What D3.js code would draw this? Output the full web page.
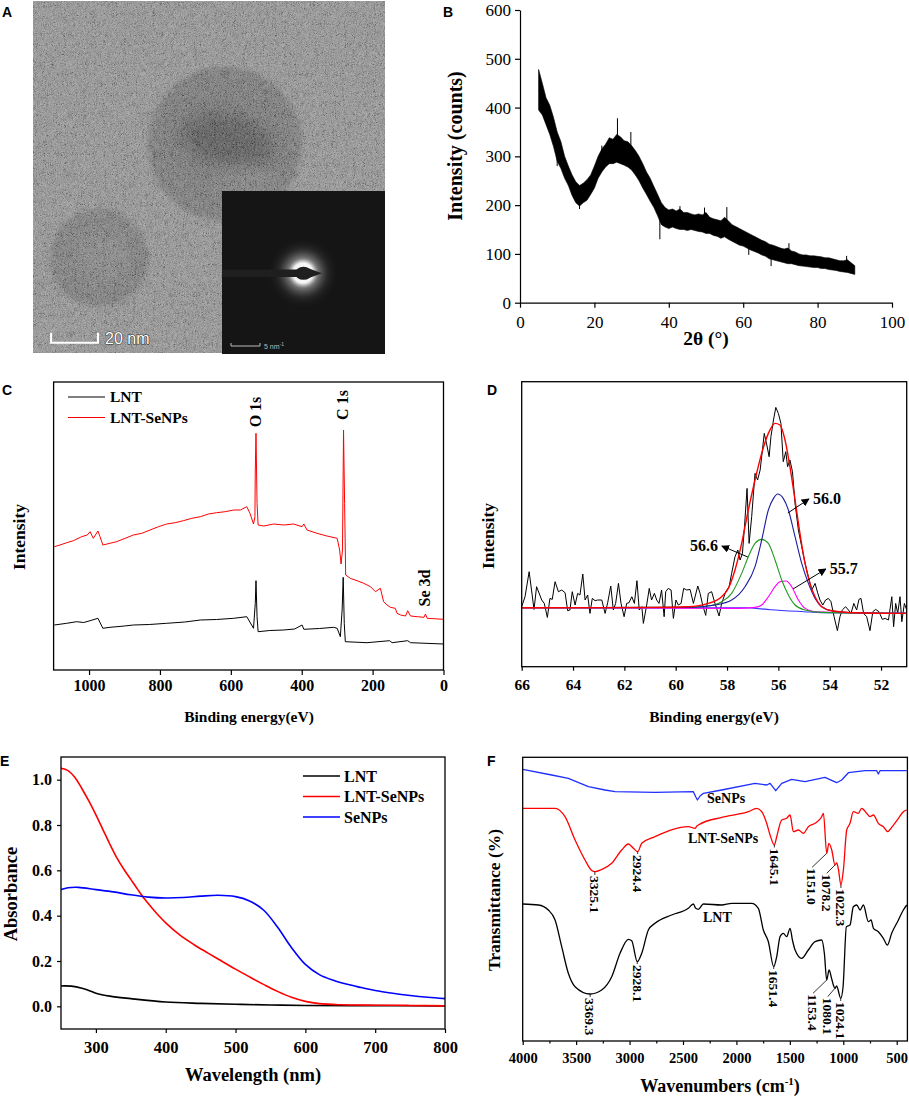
<!DOCTYPE html>
<html>
<head>
<meta charset="utf-8">
<script src="https://cdn.jsdelivr.net/npm/d3@7"></script>
<style>
  body { margin: 0; background: #fff; }
  svg text { font-family: "Liberation Serif", "Times New Roman", serif; }
</style>
</head>
<body>
<script>
// ---------- data ----------

// A: TEM micrograph, particle centres / radii in nm
const temParticles = [
  { x: 81.8, y: 60.9, r: 32.8 },
  { x: 28.1, y: 109.5, r: 20.9 }
];

// B: XRD, noisy band (low / high counts) per degree, plus single spikes
const xrdAngle = d3.range(5, 91);
const xrdLow = [395,385,365,345,320,290,275,255,240,220,205,198,205,210,222,235,255,268,278,285,285,288,285,282,278,272,262,250,235,222,208,195,178,160,155,152,155,152,150,150,148,150,148,146,145,142,142,138,136,132,135,130,126,122,118,116,112,108,105,102,98,95,90,88,86,84,82,80,80,78,76,75,74,73,72,72,70,70,68,67,66,64,63,62,60,58];
const xrdHigh = [478,450,420,405,380,350,330,300,280,262,248,240,245,252,262,280,300,315,325,338,335,345,340,332,330,322,312,300,285,268,255,238,222,205,195,190,192,188,192,185,185,182,180,182,180,185,175,172,170,168,175,168,160,156,152,148,144,140,136,132,128,125,120,118,115,112,110,112,106,104,100,98,98,96,96,95,94,92,92,90,88,86,86,88,82,76];
const xrdSpikes = [[7,405],[10,280],[16,192],[22,322],[26.2,378],[29.8,350],[37.6,130],[43,198],[49.6,195],[55.6,196],[61.5,98],[67.5,75],[72.3,122],[87.8,96]];

// C: XPS survey, [binding energy eV, intensity a.u.]
const xpsLNT = [[1098,45],[1063,46.7],[1035,48.3],[1015,47.5],[997,49.3],[975,51.7],[961,41.7],[941,42.7],[900,44],[875,45],[830,45.5],[781,46.7],[730,48],[686,50],[640,50.5],[592,51.7],[555,53.3],[536,41.7],[531,66.7],[529,89.3],[526,53.3],[523,38.3],[490,39.5],[451,40],[420,41],[399,45],[394,40.7],[350,41.5],[310,42.7],[300,41.7],[291,33.3],[286,60],[283,92.7],[280,46.7],[277,28.3],[216,27.3],[152,29.3],[145,27.3],[101,29.3],[93,27.3],[0,26]];
const xpsSeNPs = [[1098,123.3],[1082,125],[1063,127.3],[1044,129.3],[1021,133.3],[1005,135],[997,138.3],[988,131.7],[975,139],[969,133.3],[961,125],[941,126.7],[922,128.3],[898,131.7],[875,135],[851,136.7],[828,140],[804,143.3],[781,146],[757,147.3],[734,149.3],[710,151.7],[686,153.3],[663,156],[640,157.3],[616,158.3],[592,160],[573,160],[555,163.3],[546,156.7],[536,146],[532,153.3],[531,200],[529,236.7],[526,166.7],[523,145],[507,144],[479,146],[451,145],[423,146],[399,143.3],[394,146],[385,140],[357,136.7],[329,134],[300,131.7],[293,120],[289,106],[285,120],[282,240],[279,166.7],[276,95],[263,91.7],[244,89.3],[225,86.7],[206,83.3],[192,78.3],[178,81.7],[169,68.3],[159,65],[150,62.7],[136,61.7],[131,56.7],[121,55],[107,54],[101,59.3],[93,54],[74,53.3],[55,52.7],[51,56],[46,51.7],[27,51.3],[0,50.7]];
const xpsLabels = [["O 1s",531,412],["C 1s",285,405],["Se 3d",55,588]];

// D: Se 3d high resolution, [binding energy eV, intensity a.u.]
const se3dRaw = [[66.00,60],[65.87,70],[65.71,95],[65.52,57.3],[65.42,80],[65.22,66.7],[65.12,63.3],[65.00,49.3],[64.90,68.3],[64.81,67.3],[64.70,85],[64.57,75],[64.44,76.7],[64.31,74],[64.21,56],[64.12,56.7],[64.03,75],[63.92,61.7],[63.82,73.3],[63.73,71.7],[63.62,92.7],[63.53,66.7],[63.43,71.7],[63.34,53.3],[63.25,68.3],[63.14,66],[63.04,66.7],[62.88,66.7],[62.75,53.3],[62.65,64],[62.53,80.7],[62.43,56.7],[62.34,63.3],[62.23,83.3],[62.13,63.3],[62.01,50],[61.91,63.3],[61.82,64],[61.71,70],[61.61,63.3],[61.51,86],[61.42,56.7],[61.32,60],[61.26,43.3],[61.13,61.7],[61.03,78.3],[60.94,66.7],[60.83,73.3],[60.74,66.7],[60.65,63.3],[60.55,76.7],[60.45,50],[60.39,75],[60.29,78.3],[60.18,76.7],[60.09,48.3],[59.99,66.7],[59.90,61.7],[59.79,63.3],[59.69,78.3],[59.57,76.7],[59.44,77.3],[59.31,63.3],[59.14,80.7],[59.05,73.3],[58.95,61.7],[58.83,51.3],[58.73,73.3],[58.60,75],[58.47,63.3],[58.31,50.7],[58.21,63.3],[58.05,75],[57.92,80],[57.82,93.3],[57.69,110],[57.58,116.7],[57.49,106.7],[57.40,113.3],[57.32,140],[57.22,178.3],[57.14,123.3],[57.04,150],[56.91,193.3],[56.81,186.7],[56.71,196.7],[56.62,216.7],[56.55,233.3],[56.45,221.7],[56.36,210],[56.29,230],[56.19,246.7],[56.10,259.3],[56.00,253.3],[55.90,243.3],[55.81,205],[55.71,215],[55.64,200],[55.55,206.7],[55.45,195],[55.35,163.3],[55.22,136.7],[55.09,120],[54.96,103.3],[54.83,90],[54.70,76.7],[54.57,83.3],[54.47,74],[54.38,66.7],[54.27,61.7],[54.16,66.7],[54.05,68.3],[53.95,65],[53.83,50],[53.70,36],[53.60,50],[53.51,56.7],[53.38,60],[53.27,56.7],[53.17,53.3],[53.06,63.3],[52.95,56.7],[52.86,67.3],[52.78,68.3],[52.68,53.3],[52.56,50],[52.43,36],[52.32,55],[52.21,57.3],[52.08,55],[51.95,47.3],[51.84,48.3],[51.71,46.7],[51.58,70],[51.51,40],[51.43,63.3],[51.35,53.3],[51.26,70],[51.19,45],[51.09,63.3],[51.00,56.7]];
const se3dBackground = [[66,59],[57.3,59],[56.3,57],[55,55],[54.3,54],[51,53.3]];
const se3dTotal = [[66,59],[60.81,59.3],[59.51,60],[58.73,63.3],[58.21,70],[57.95,78.3],[57.69,96.7],[57.43,123.3],[57.17,156.7],[56.91,186.7],[56.65,213.3],[56.39,233.3],[56.13,243.3],[55.94,241.7],[55.74,226.7],[55.55,200],[55.35,166.7],[55.16,133.3],[54.96,103.3],[54.77,83.3],[54.57,70],[54.31,60],[53.92,56],[53.01,54],[51,53.3]];
const se3d560 = [[66,59],[59.51,59.3],[58.47,61.7],[57.82,66.7],[57.30,80],[56.91,100],[56.65,126.7],[56.39,156.7],[56.19,168.3],[56.03,172.7],[55.81,168.3],[55.61,156.7],[55.35,130],[55.09,103.3],[54.83,83.3],[54.57,68.3],[54.31,60],[53.92,56],[53.01,54],[51,53.3]];
const se3d566 = [[66,59],[59.51,59.3],[58.73,60.7],[58.21,65],[57.82,73.3],[57.43,93.3],[57.17,110],[56.91,123.3],[56.65,127.3],[56.39,123.3],[56.13,106.7],[55.87,86.7],[55.61,71.7],[55.35,61.7],[54.96,56.7],[54.31,54.3],[51,53.3]];
const se3d557 = [[66,59],[57.56,58.3],[56.91,59.3],[56.65,61.7],[56.39,70],[56.13,80],[55.94,85],[55.70,85.7],[55.48,80],[55.22,66.7],[54.96,58.3],[54.57,55],[51,53.3]];
// peak notes: label, arrow tail [eV, a.u.], arrow head [eV, a.u.]
const se3dNotes = [["56.0",[55.63,153.7],[54.81,167.7],"start"],["56.6",[57.19,109.7],[58.20,120.7],"end"],["55.7",[55.43,77.7],[54.15,97.7],"start"]];

// E: UV-vis, [wavelength nm, absorbance]
const uvLNT = [[250,0.09],[265,0.089],[280,0.08],[290,0.07],[300,0.058],[320,0.045],[350,0.034],[400,0.019],[450,0.013],[500,0.009],[550,0.006],[600,0.004],[700,0.003],[800,0.002]];
const uvLNTSeNPs = [[250,1.05],[260,1.04],[270,1.01],[280,0.96],[290,0.905],[300,0.845],[310,0.78],[320,0.715],[330,0.655],[340,0.605],[350,0.56],[360,0.515],[370,0.472],[380,0.435],[390,0.4],[400,0.368],[420,0.315],[440,0.273],[460,0.236],[480,0.2],[500,0.164],[520,0.13],[540,0.097],[560,0.066],[580,0.04],[600,0.022],[620,0.012],[650,0.007],[700,0.005],[750,0.004],[800,0.002]];
const uvSeNPs = [[250,0.515],[260,0.523],[275,0.525],[300,0.515],[325,0.505],[350,0.492],[375,0.482],[400,0.478],[425,0.48],[450,0.486],[475,0.49],[500,0.484],[520,0.465],[540,0.425],[560,0.35],[580,0.26],[600,0.185],[620,0.14],[640,0.115],[660,0.097],[680,0.083],[700,0.07],[725,0.058],[750,0.048],[775,0.04],[800,0.034]];
const uvSeries = ["LNT", "LNT-SeNPs", "SeNPs"];

// F: FT-IR, [wavenumber cm-1, transmittance a.u.]
const irSeNPs = [[4000,271.7],[3729,266],[3573,262.7],[3385,254.3],[3230,251],[3136,249.3],[2762,248.7],[2403,249.3],[2381,244.3],[2365,241],[2340,245],[2309,247.7],[2138,251],[1826,257.7],[1717,256],[1685,257.7],[1632,250.3],[1576,257.7],[1483,261.7],[1358,259.3],[1171,263.7],[1062,258.3],[1015,261],[952,268.3],[796,270.3],[687,270.3],[672,267],[656,270.3],[406,270.3]];
const irLNTSeNPs = [[4000,232.7],[3697,232.7],[3604,224.3],[3510,201],[3417,181],[3354,170.5],[3325,169.3],[3261,171.5],[3167,177.7],[3074,191],[3011,197],[2964,192.7],[2924,189.3],[2886,197.7],[2762,204.3],[2450,214.3],[2387,212.7],[2370,215],[2356,216],[2138,223.7],[1888,229.3],[1810,232.7],[1763,229.3],[1717,217.7],[1685,206],[1645,196],[1623,204.3],[1576,221],[1530,222.7],[1498,226],[1467,209.3],[1420,211],[1374,207.7],[1327,214.3],[1264,217.7],[1202,224.3],[1186,227.7],[1155,187.7],[1135,197.7],[1108,191],[1078,176],[1062,178],[1046,172],[1022,156],[999,171],[968,211],[937,217.7],[906,229.3],[859,227.7],[828,232.7],[781,227.7],[750,224.3],[718,226],[672,217.7],[625,214.3],[584,209.3],[547,213.7],[484,222.7],[438,229.3],[406,231]];
const irLNT = [[4000,137],[3853,136],[3760,131],[3697,121],[3635,94.3],[3573,67.7],[3510,54.3],[3369,47],[3261,51],[3167,64.3],[3089,87.7],[3011,101.7],[2980,100.3],[2928,79.3],[2886,87.7],[2824,111],[2762,117.7],[2606,126],[2450,132.7],[2403,137],[2381,132.7],[2356,131.7],[2309,137],[2138,136],[2044,137.7],[1857,137.7],[1795,132.7],[1748,111],[1701,99.3],[1651,74.3],[1623,84.3],[1592,104.3],[1561,107.7],[1530,104.3],[1498,112.7],[1476,101],[1451,91],[1389,82.7],[1327,91],[1264,99.3],[1202,101],[1177,87.7],[1155,61],[1133,71],[1108,62],[1093,56],[1078,52.7],[1062,55],[1024,42.7],[1002,54.3],[971,114.3],[937,116],[906,134.3],[874,136],[843,131],[812,136],[765,119.3],[740,121],[718,112.7],[672,109.3],[625,102.7],[587,96],[547,107.7],[484,121],[438,131],[406,136]];
// peak labels: text, curve point [cm-1, a.u.], label start [cm-1, a.u.]
const irPeaks = [
  ["3325.1",[3325,169.3],[3325,166]], ["2924.4",[2924,189.3],[2924,187]], ["1645.1",[1645,196],[1645,193.5]],
  ["1151.0",[1155,187.7],[1292,173.7]], ["1078.2",[1078,176],[1155,167.7]], ["1022.3",[1022,156],[1022,153]],
  ["3369.3",[3369,47],[3369,44]], ["2928.1",[2928,79.3],[2928,77]], ["1651.4",[1651,74.3],[1651,72]],
  ["1153.4",[1155,61],[1283,47.7]], ["1080.1",[1078,52.7],[1146,44.3]], ["1024.1",[1024,42.7],[1024,40]]
];
const irNames = [["SeNPs",2275,238],["LNT-SeNPs",2453,198.5],["LNT",2313,119.5]];

// ---------- drawing ----------
const serif = '"Liberation Serif", "Times New Roman", serif';
const sans = '"Liberation Sans", Arial, sans-serif';

const svg = d3.select("body").append("svg")
    .attr("width", 909)
    .attr("height", 1098);
const defs = svg.append("defs");

function styleAxis(g, size, bold) {
  g.selectAll("line, path").attr("stroke", "#000").attr("stroke-width", 1.2);
  g.selectAll("text")
      .attr("fill", "#000")
      .style("font-family", serif)
      .style("font-size", size + "px")
      .style("font-weight", bold ? "bold" : "normal");
}

function frame(x, y) {
  const [x0, x1] = x.range(), [y0, y1] = y.range();
  svg.append("rect")
      .attr("x", x0).attr("y", y1)
      .attr("width", x1 - x0).attr("height", y0 - y1)
      .attr("fill", "none").attr("stroke", "#000").attr("stroke-width", 1.3);
}

function letter(t, x, y) {
  svg.append("text").attr("x", x).attr("y", y)
      .style("font-family", sans).attr("font-weight", "bold").attr("font-size", 14)
      .text(t);
}

function title(t, x, y, size, rotate) {
  svg.append("text")
      .attr("transform", `translate(${x},${y})` + (rotate ? " rotate(-90)" : ""))
      .attr("text-anchor", "middle").attr("font-weight", "bold").attr("font-size", size)
      .text(t);
}

function plot(data, x, y, color, width, curve) {
  svg.append("path").datum(data)
      .attr("d", d3.line().x(d => x(d[0])).y(d => y(d[1])).curve(curve || d3.curveLinear))
      .attr("fill", "none").attr("stroke", color)
      .attr("stroke-width", width).attr("stroke-linejoin", "round");
}

const intFmt = d3.format("d");

// ===== A: TEM image =====
const tx = d3.scaleLinear().domain([0, 150]).range([33, 385]);
const ty = d3.scaleLinear().domain([0, 150]).range([1, 353]);
const tk = tx(1) - tx(0);

const grain = defs.append("filter").attr("id", "grain")
    .attr("filterUnits", "userSpaceOnUse").attr("x", 33).attr("y", 1).attr("width", 352).attr("height", 352);
grain.append("feTurbulence").attr("type", "fractalNoise").attr("baseFrequency", 1.9)
    .attr("numOctaves", 1).attr("seed", 11);
grain.append("feColorMatrix").attr("type", "matrix")
    .attr("values", "2.0 0 0 0 -0.5  2.0 0 0 0 -0.5  2.0 0 0 0 -0.5  0 0 0 0 1");
defs.append("filter").attr("id", "soft").append("feGaussianBlur").attr("stdDeviation", 2.5);
defs.append("filter").attr("id", "softer").attr("x", -0.5).attr("y", -0.5).attr("width", 2).attr("height", 2)
    .append("feGaussianBlur").attr("stdDeviation", 9);

svg.append("rect").attr("x", tx(0)).attr("y", ty(0))
    .attr("width", tx(150) - tx(0)).attr("height", ty(150) - ty(0)).attr("fill", "#8e8e8e");

const big = temParticles[0], small = temParticles[1];
svg.append("circle").attr("cx", tx(big.x)).attr("cy", ty(big.y)).attr("r", big.r * tk)
    .attr("fill", "#707070").attr("filter", "url(#soft)");
svg.append("ellipse").attr("cx", tx(big.x) + 2).attr("cy", ty(big.y) - 4)
    .attr("rx", big.r * tk * 0.62).attr("ry", big.r * tk * 0.34)
    .attr("transform", `rotate(14,${tx(big.x)},${ty(big.y)})`)
    .attr("fill", "#4c4c4c").attr("filter", "url(#softer)");
svg.append("ellipse").attr("cx", tx(big.x) + 22).attr("cy", ty(big.y) + 40)
    .attr("rx", 30).attr("ry", 14).attr("fill", "#7a7a7a").attr("filter", "url(#softer)");
svg.append("circle").attr("cx", tx(small.x)).attr("cy", ty(small.y)).attr("r", small.r * tk)
    .attr("fill", "#737373").attr("filter", "url(#soft)");
svg.append("circle").attr("cx", tx(small.x) + 3).attr("cy", ty(small.y) - 2).attr("r", small.r * tk * 0.55)
    .attr("fill", "#7e7e7e").attr("filter", "url(#softer)");

svg.append("rect").attr("x", tx(0)).attr("y", ty(0))
    .attr("width", tx(150) - tx(0)).attr("height", ty(150) - ty(0))
    .attr("filter", "url(#grain)").attr("opacity", 0.28);

// scale bar 20 nm
const barX0 = tx(7.7), barY = ty(145.6);
svg.append("path")
    .attr("d", `M${barX0},${barY - 10}V${barY}H${barX0 + 20 * tk}V${barY - 10}`)
    .attr("fill", "none").attr("stroke", "#fff").attr("stroke-width", 2);
svg.append("text").attr("x", barX0 + 20 * tk + 7).attr("y", barY + 1)
    .style("font-family", sans).style("font-size", "16px").style("fill", "#fff")
    .style("stroke", "#333").style("stroke-width", "1.2px").style("paint-order", "stroke")
    .text("20 nm");

// SAED inset
const ix0 = 222, iy0 = 191, iw = 163;
svg.append("rect").attr("x", ix0).attr("y", iy0).attr("width", iw).attr("height", iw).attr("fill", "#151515");
const glow = defs.append("radialGradient").attr("id", "glow");
[[0, "#ffffff", 1], [0.28, "#f4f4f4", 1], [0.42, "#9a9a9a", 0.7], [0.7, "#444", 0.35], [1, "#151515", 0]]
  .forEach(s => glow.append("stop").attr("offset", s[0]).attr("stop-color", s[1]).attr("stop-opacity", s[2]));
svg.append("circle").attr("cx", 303).attr("cy", 273).attr("r", 36).attr("fill", "url(#glow)");
svg.append("rect").attr("x", ix0).attr("y", 269.5).attr("width", 76).attr("height", 7.5).attr("fill", "#1f1f1f");
svg.append("ellipse").attr("cx", 303.5).attr("cy", 273.3).attr("rx", 8.5).attr("ry", 6.5).attr("fill", "#1f1f1f");
svg.append("path").attr("d", "M309,268.5L322,273.3L309,278Z").attr("fill", "#1f1f1f");
svg.append("path").attr("d", "M231,343V346H260V343").attr("fill", "none").attr("stroke", "#bbb").attr("stroke-width", 1);
const saedTxt = svg.append("text").attr("x", 264).attr("y", 349)
    .style("font-family", sans).style("font-size", "7px").style("fill", "#bbb").text("5 nm");
saedTxt.append("tspan").attr("dy", -3).style("font-size", "5px").text("-1");

letter("A", 2, 17);

// ===== B: XRD =====
const bx = d3.scaleLinear().domain([0, 100]).range([520, 892]);
const by = d3.scaleLinear().domain([0, 600]).range([302.7, 10]);

svg.append("path").datum(xrdAngle)
    .attr("d", d3.area().x(d => bx(d)).y0((d, i) => by(xrdLow[i])).y1((d, i) => by(xrdHigh[i])))
    .attr("fill", "#000").attr("stroke", "#000").attr("stroke-width", 0.6);
xrdSpikes.forEach(s => {
  const i = Math.round(s[0]) - 5;
  svg.append("line")
      .attr("x1", bx(s[0])).attr("x2", bx(s[0]))
      .attr("y1", by((xrdLow[i] + xrdHigh[i]) / 2)).attr("y2", by(s[1]))
      .attr("stroke", "#000").attr("stroke-width", 1);
});

svg.append("g").attr("transform", `translate(0,${by(0)})`)
    .call(d3.axisBottom(bx).tickValues([0, 20, 40, 60, 80, 100]).tickSize(5).tickPadding(8).tickSizeOuter(0))
    .call(g => styleAxis(g, 17, false));
svg.append("g").attr("transform", `translate(${bx(0)},0)`)
    .call(d3.axisLeft(by).tickValues(d3.range(0, 601, 100)).tickSize(5).tickPadding(4).tickSizeOuter(0))
    .call(g => styleAxis(g, 17, false));
title("2θ (°)", 706, 345, 19.5, false);
title("Intensity (counts)", 462, 146, 20, true);
letter("B", 443, 17);

// ===== C: XPS survey =====
const cx = d3.scaleLinear().domain([1100, 0]).range([53.6, 443.5]);
const cy = d3.scaleLinear().domain([0, 288]).range([670, 382]);

plot(xpsLNT, cx, cy, "#000", 1);
plot(xpsSeNPs, cx, cy, "#ff0000", 1);
frame(cx, cy);
svg.append("g").attr("transform", `translate(0,${cy(0)})`)
    .call(d3.axisBottom(cx).tickValues([1000, 800, 600, 400, 200, 0]).tickFormat(intFmt)
      .tickSize(5).tickPadding(5).tickSizeOuter(0))
    .call(g => styleAxis(g, 16, true))
    .call(g => g.select(".domain").remove());
xpsLabels.forEach(l => {
  svg.append("text")
      .attr("transform", `translate(${cx(l[1])},${l[2]}) rotate(-90)`)
      .attr("text-anchor", "middle").attr("dy", "0.35em")
      .attr("font-weight", "bold").attr("font-size", 16)
      .text(l[0]);
});
[["LNT", "#000"], ["LNT-SeNPs", "#ff0000"]].forEach((s, i) => {
  const yy = 397 + i * 20.5;
  svg.append("line").attr("x1", 68).attr("x2", 105).attr("y1", yy).attr("y2", yy)
      .attr("stroke", s[1]).attr("stroke-width", 1.1);
  svg.append("text").attr("x", 110).attr("y", yy).attr("dy", "0.35em")
      .attr("font-weight", "bold").attr("font-size", 15.5).text(s[0]);
});
title("Binding energy(eV)", 249, 722, 15.5, false);
title("Intensity", 25, 537, 17.5, true);
letter("C", 2, 395);

// ===== D: Se 3d =====
const dx = d3.scaleLinear().domain([66, 51]).range([521.7, 906.7]);
const dy = d3.scaleLinear().domain([0, 285]).range([666.7, 381.7]);

plot(se3dRaw, dx, dy, "#000", 1);
plot(se3dBackground, dx, dy, "#3333ff", 1.1, d3.curveMonotoneX);
plot(se3d557, dx, dy, "#ff00ff", 1.1, d3.curveMonotoneX);
plot(se3d566, dx, dy, "#1f9a1f", 1.1, d3.curveMonotoneX);
plot(se3d560, dx, dy, "#1c1ca0", 1.1, d3.curveMonotoneX);
plot(se3dTotal, dx, dy, "#ff0000", 1.4, d3.curveMonotoneX);
frame(dx, dy);

defs.append("marker").attr("id", "arrow").attr("viewBox", "0 0 10 10")
    .attr("refX", 9).attr("refY", 5).attr("markerWidth", 8).attr("markerHeight", 8)
    .attr("markerUnits", "userSpaceOnUse").attr("orient", "auto")
  .append("path").attr("d", "M0,0L10,5L0,10Z").attr("fill", "#000");
se3dNotes.forEach(n => {
  const [t, tail, head, anchor] = n;
  svg.append("line")
      .attr("x1", dx(tail[0])).attr("y1", dy(tail[1]))
      .attr("x2", dx(head[0])).attr("y2", dy(head[1]))
      .attr("stroke", "#000").attr("stroke-width", 1).attr("marker-end", "url(#arrow)");
  svg.append("text")
      .attr("x", dx(head[0]) + (anchor === "start" ? 4 : -4)).attr("y", dy(head[1]))
      .attr("dy", "0.3em").attr("text-anchor", anchor)
      .attr("font-weight", "bold").attr("font-size", 16).text(t);
});
svg.append("g").attr("transform", `translate(0,${dy(0)})`)
    .call(d3.axisBottom(dx).tickValues(d3.range(66, 51, -2)).tickSize(4).tickPadding(8).tickSizeOuter(0))
    .call(g => styleAxis(g, 15.5, true))
    .call(g => g.select(".domain").remove());
title("Binding energy(eV)", 714, 722, 15.5, false);
title("Intensity", 494, 536, 17.5, true);
letter("D", 487, 395);

// ===== E: UV-vis =====
const ex = d3.scaleLinear().domain([250, 800]).range([61, 445]);
const ey = d3.scaleLinear().domain([-0.1, 1.1]).range([1029, 757]);
const uvColor = d3.scaleOrdinal().domain(uvSeries).range(["#000000", "#ff0000", "#0000ff"]);

[uvLNT, uvLNTSeNPs, uvSeNPs].forEach((s, i) =>
  plot(s, ex, ey, uvColor(uvSeries[i]), 1.6, d3.curveCatmullRom.alpha(0.5)));
frame(ex, ey);
svg.append("g").attr("transform", `translate(0,${ey.range()[0]})`)
    .call(d3.axisBottom(ex).tickValues([300, 400, 500, 600, 700, 800]).tickSize(4).tickPadding(8).tickSizeOuter(0))
    .call(g => styleAxis(g, 16.5, true))
    .call(g => g.select(".domain").remove());
svg.append("g").attr("transform", `translate(${ex.range()[0]},0)`)
    .call(d3.axisLeft(ey).tickValues([0, 0.2, 0.4, 0.6, 0.8, 1.0]).tickFormat(d3.format(".1f"))
      .tickSize(4).tickPadding(5).tickSizeOuter(0))
    .call(g => styleAxis(g, 16, true))
    .call(g => g.select(".domain").remove());
uvSeries.forEach((s, i) => {
  const yy = 776 + i * 20.5;
  svg.append("line").attr("x1", 303).attr("x2", 340).attr("y1", yy).attr("y2", yy)
      .attr("stroke", uvColor(s)).attr("stroke-width", 1.6);
  svg.append("text").attr("x", 344).attr("y", yy).attr("dy", "0.35em")
      .attr("font-weight", "bold").attr("font-size", 16).text(s);
});
title("Wavelength (nm)", 253, 1081, 18.5, false);
title("Absorbance", 16.5, 894, 18.5, true);
letter("E", 0, 766);

// ===== F: FT-IR =====
const fx = d3.scaleLinear().domain([4000, 400]).range([522.7, 907.4]);
const fy = d3.scaleLinear().domain([0, 283.7]).range([1041, 757.3]);

plot(irSeNPs, fx, fy, "#1f2fff", 1.3);
plot(irLNTSeNPs, fx, fy, "#ff0000", 1.3, d3.curveMonotoneX);
plot(irLNT, fx, fy, "#000", 1.3, d3.curveMonotoneX);
frame(fx, fy);
svg.append("g").attr("transform", `translate(0,${fy(0)})`)
    .call(d3.axisBottom(fx).tickValues(d3.range(750, 4000, 500)).tickSize(2.5).tickFormat("").tickSizeOuter(0))
    .call(g => styleAxis(g, 14, true))
    .call(g => g.select(".domain").remove());
svg.append("g").attr("transform", `translate(0,${fy(0)})`)
    .call(d3.axisBottom(fx).tickValues(d3.range(4000, 499, -500)).tickFormat(intFmt)
      .tickSize(4).tickPadding(7.5).tickSizeOuter(0))
    .call(g => styleAxis(g, 14.5, true))
    .call(g => g.select(".domain").remove());

irPeaks.forEach(p => {
  const [t, pt, lab] = p;
  svg.append("line")
      .attr("x1", fx(pt[0])).attr("y1", fy(pt[1]))
      .attr("x2", fx(lab[0])).attr("y2", fy(lab[1]))
      .attr("stroke", "#000").attr("stroke-width", 0.8);
  svg.append("text")
      .attr("transform", `translate(${fx(lab[0])},${fy(lab[1]) + 1}) rotate(90)`)
      .attr("dy", "0.35em").attr("font-weight", "bold").attr("font-size", 13.5)
      .text(t);
});
irNames.forEach(n => {
  svg.append("text").attr("x", fx(n[1])).attr("y", fy(n[2]))
      .attr("font-weight", "bold").attr("font-size", 14).text(n[0]);
});
const fTitle = svg.append("text").attr("x", 720).attr("y", 1092)
    .attr("text-anchor", "middle").attr("font-weight", "bold").attr("font-size", 18)
    .text("Wavenumbers (cm");
fTitle.append("tspan").attr("dy", -7).attr("font-size", 11).text("-1");
fTitle.append("tspan").attr("dy", 7).text(")");
title("Transmittance (%)", 500, 900, 17.5, true);
letter("F", 487, 766);
</script>
</body>
</html>
